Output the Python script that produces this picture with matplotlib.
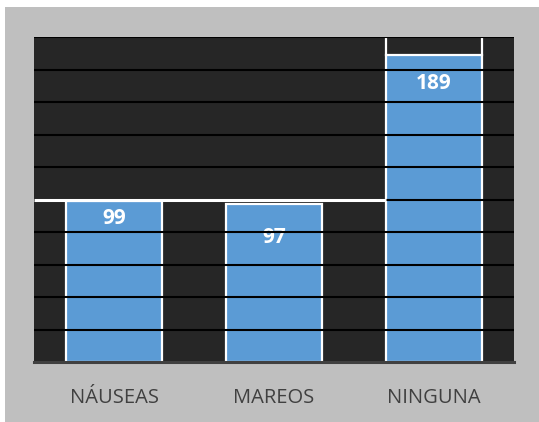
import matplotlib.pyplot as plt
from matplotlib.patches import Rectangle

# valores del gráfico
sintomas = ["NÁUSEAS", "MAREOS", "NINGUNA"]
pacientes = [99, 97, 189]
etiquetas = ["99", "97", "189"]

plt.rcParams["font.family"] = ["Open Sans", "DejaVu Sans"]

fig = plt.figure(figsize=(5.39, 4.22), dpi=100, facecolor="white")
# marco gris del área del gráfico
fig.add_artist(Rectangle((5 / 539, 0), 1, 1 - 7 / 422, transform=fig.transFigure,
                         facecolor="#bfbfbf", edgecolor="none", zorder=-10))

ax = fig.add_axes([34 / 539, 1 - 362 / 422, 480 / 539, 325 / 422])
ax.set_facecolor("#262626")

x = range(len(sintomas))
barras = ax.bar(x, pacientes, width=0.6, color="#5b9bd5", edgecolor="white",
                linewidth=1.6, zorder=2)

ax.set_xlim(-0.5, len(sintomas) - 0.5)
ax.set_ylim(0, 200)

# líneas de división encima de las barras
for v in range(20, 201, 20):
    ax.axhline(v, color="black", linewidth=1.5, zorder=5)
# línea blanca en 100 y contorno hasta el máximo en la última barra
ax.plot([-0.5, 1.7], [100, 100], color="white", linewidth=2.2, zorder=6,
        solid_capstyle="butt")
b = barras[2]
ax.plot([b.get_x(), b.get_x()], [pacientes[2], 200], color="white", linewidth=1.6, zorder=4)
ax.plot([b.get_x() + b.get_width()] * 2, [pacientes[2], 200], color="white",
        linewidth=1.6, zorder=4)

# etiquetas de datos
desplaz = [-17, -33, -29]
for i, (v, t) in enumerate(zip(pacientes, etiquetas)):
    ax.annotate(t, (i, v), xytext=(0, desplaz[i]), textcoords="offset pixels",
                ha="center", va="center", color="white", fontsize=15,
                fontweight="bold", zorder=3)

ax.set_xticks(list(x))
ax.set_xticklabels(sintomas, fontsize=14.5, color="#404040")
ax.tick_params(axis="x", length=0, pad=19)
ax.set_yticks([])
for s in ["top", "left", "right"]:
    ax.spines[s].set_visible(False)
ax.spines["bottom"].set_color("#404040")
ax.spines["bottom"].set_linewidth(2.2)
ax.spines["bottom"].set_zorder(6)

fig.savefig("out.png", dpi=100, facecolor=fig.get_facecolor())
